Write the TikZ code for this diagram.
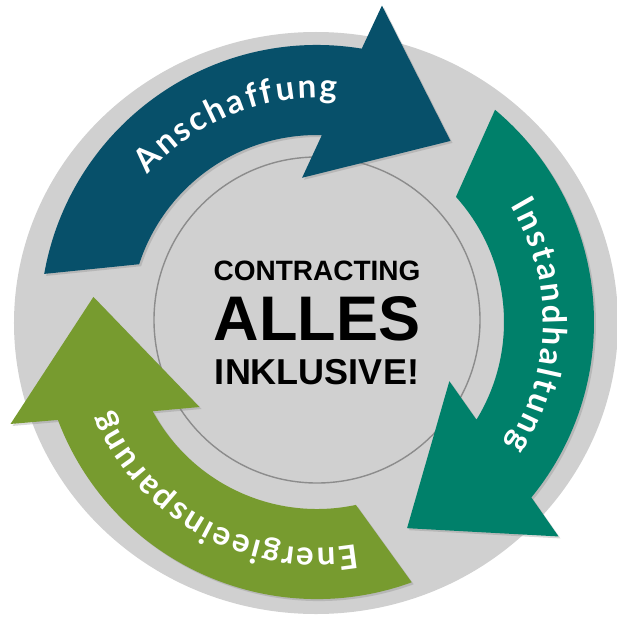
\documentclass[tikz,border=0pt]{standalone}
\usepackage{fontspec}
\setmainfont{Liberation Sans}
\newfontfamily\arcfamily{Lato}
\usetikzlibrary{decorations.text,shadows}
\definecolor{discgray}{RGB}{208,208,208}
\definecolor{coregray}{RGB}{140,140,140}
\definecolor{petrol}{RGB}{7,80,106}
\definecolor{ringteal}{RGB}{0,128,106}
\definecolor{ringgreen}{RGB}{119,155,47}
\tikzset{
	disc/.style     = {fill=discgray, draw=none},
	core/.style     = {fill=discgray, draw=coregray, line width=1.4pt},
	band/.style     = {draw=none, drop shadow={shadow xshift=2pt, shadow yshift=-2pt, opacity=0.3}},
	arclabel/.style = {decorate, decoration={text along path, text align={fit to path},
		text color=white, text={|\arcfont|#1}}}
}
\newcommand{\arcfont}{\arcfamily\bfseries\fontsize{33}{35}\selectfont}
% #1 turn, #2 colour
\newcommand{\cyclearrow}[2]{%
	\fill[band, #2] ({170+#1}:277) arc[start angle={170+#1}, end angle={80.7+#1}, radius=277]
		-- ({78.4+#1}:323) -- ({53.6+#1}:225) -- ({95.9+#1}:145) -- ({88.5+#1}:187)
		arc[start angle={88.5+#1}, end angle={162+#1}, radius=187] -- cycle;
}

\begin{document}
\begin{tikzpicture}[x=1pt, y=1pt]
	\useasboundingbox (-317,-294) rectangle (300,322);
	\fill[disc] (-1,-1) ellipse [x radius=302, y radius=291];
	\draw[core] (0,2) circle [radius=163];
	\cyclearrow{0}{petrol}
	\cyclearrow{-120}{ringteal}
	\cyclearrow{-240}{ringgreen}
	\path[arclabel=Anschaffung] (139:224) arc[start angle=139, end angle=85, radius=224];
	\path[arclabel=Instandhaltung] (31:226) arc[start angle=31, end angle=-33, radius=226];
	\path[arclabel=Energieeinsparung] (-80:226) arc[start angle=-80, end angle=-157, radius=226];
	\node[anchor=base, font=\bfseries\fontsize{28}{30}\selectfont] (contracting) at (0,42) {CONTRACTING};
	\node[anchor=base, font=\bfseries\fontsize{63}{65}\selectfont] (alles) at (0,-18) {ALLES};
	\node[anchor=base, font=\bfseries\fontsize{36}{38}\selectfont] (inklusive) at (0,-62) {INKLUSIVE!};
\end{tikzpicture}
\end{document}
